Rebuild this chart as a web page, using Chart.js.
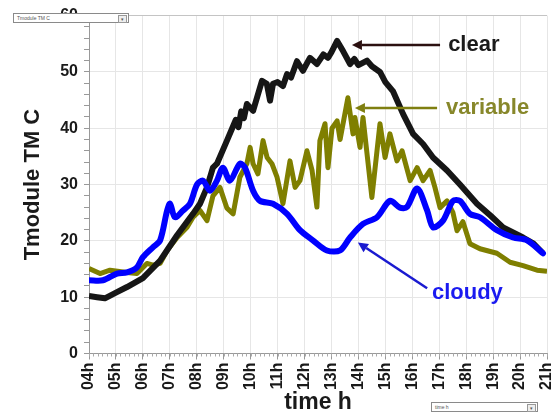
<!DOCTYPE html>
<html><head><meta charset="utf-8">
<script src="https://cdn.jsdelivr.net/npm/chart.js@4"></script>
<style>
html,body{margin:0;padding:0;background:#fff;}
#wrap{position:relative;width:558px;height:414px;overflow:hidden;}
canvas{position:absolute;left:0;top:0;}
.dd{position:absolute;border:1px solid #8a8a8a;background:#fff;font:5px "Liberation Sans",Arial,sans-serif;line-height:8px;color:#555;padding-left:3px;box-sizing:border-box;}
.dd .btn{position:absolute;right:1px;top:1px;width:7px;height:6px;border:1px solid #999;background:#eee;font-size:5px;line-height:6px;text-align:center;}
</style></head>
<body><div id="wrap"><canvas id="c" width="558" height="414"></canvas>
<div class="dd" style="left:13px;top:13px;width:116px;height:10px;">Tmodule TM C<div class="btn">&#9662;</div></div>
<div class="dd" style="left:431px;top:402px;width:107px;height:10px;">time h<div class="btn">&#9662;</div></div>
</div>
<script>
const seriesNames = ["clear", "variable", "cloudy"];

const clearHours = [4.00,4.30,4.59,5.00,5.41,6.00,6.64,7.27,7.86,8.12,8.38,8.60,8.75,9.12,9.45,9.55,9.65,9.75,9.86,10.09,10.42,10.60,10.72,10.83,11.00,11.20,11.35,11.50,11.72,11.94,12.20,12.46,12.70,12.87,13.00,13.21,13.43,13.69,13.85,14.00,14.32,14.50,14.80,15.00,15.28,15.66,16.03,16.40,16.77,17.29,17.77,18.40,18.90,19.37,20.11,20.50,20.85];
const clearTemps = [10.2,10.0,9.8,10.8,11.8,13.4,16.5,21.0,24.8,26.6,29.5,33.0,33.7,37.8,41.5,40.2,43.0,41.8,44.3,43.1,48.4,47.9,44.9,47.9,48.2,47.5,49.6,49.0,51.9,50.2,52.5,51.4,53.1,52.5,53.5,55.5,53.7,51.4,52.3,51.2,52.0,51.0,50.0,48.2,46.6,42.5,39.0,37.2,34.8,32.5,30.0,26.6,24.5,22.4,20.6,19.5,17.8];

const variableHours = [4.00,4.41,4.78,5.41,5.78,6.15,6.38,6.64,6.90,7.27,7.64,7.86,8.12,8.38,8.60,8.86,9.12,9.35,9.60,9.86,9.98,10.09,10.27,10.46,10.61,10.79,10.98,11.20,11.46,11.65,11.83,12.09,12.28,12.46,12.57,12.76,12.87,13.02,13.21,13.32,13.61,13.80,13.87,14.06,14.17,14.50,14.80,14.99,15.17,15.43,15.62,15.92,16.18,16.40,16.66,16.84,17.03,17.29,17.51,17.66,17.88,18.14,18.51,19.14,19.63,20.11,20.63,21.00];
const variableTemps = [15.1,14.2,14.8,14.4,14.2,16.0,15.7,16.0,18.3,20.6,22.4,24.2,25.4,23.6,28.0,29.5,25.8,24.8,31.3,33.7,36.6,33.7,31.9,37.8,34.8,33.7,31.3,26.6,34.2,29.5,30.7,36.0,32.5,26.0,37.8,40.8,33.0,40.0,41.3,38.0,45.4,39.0,41.9,36.6,41.9,27.7,40.8,34.8,39.0,34.2,36.0,30.7,33.0,30.7,32.5,29.5,25.9,27.1,25.0,21.8,23.4,19.5,18.6,17.8,16.2,15.6,14.8,14.6];

const cloudyHours = [4.00,4.52,5.04,5.41,5.78,6.00,6.38,6.64,6.90,7.01,7.19,7.49,7.75,8.01,8.23,8.49,8.75,8.97,9.23,9.60,9.79,10.09,10.35,10.83,11.35,11.83,12.31,12.83,13.32,13.69,14.17,14.69,15.17,15.54,15.80,16.18,16.55,16.77,17.14,17.51,17.77,18.14,18.51,19.14,19.74,20.26,20.85];
const cloudyTemps = [13.0,13.0,14.2,14.4,15.3,17.1,18.9,20.1,25.4,26.6,24.2,25.4,26.6,30.0,30.7,28.9,30.7,33.0,30.7,33.7,33.0,28.9,27.1,26.6,24.8,21.9,20.1,18.3,18.3,20.6,23.0,24.2,27.1,25.9,26.0,29.3,25.4,22.4,23.6,27.1,27.1,24.8,24.2,21.9,20.6,20.1,17.8];

const xMin = 4, xMax = 21, yMin = 0, yMax = 60;

function pts(hs, ts){ return hs.map((h,i)=>({x:h,y:ts[i]})); }

const FONT = '"Liberation Sans", Arial, sans-serif';

const annotations = [
  {text:"clear", color:"#1a1a1a", arrowColor:"#2b1010", tx:17.33, ty:54.8, from:[17.03,54.8], to:[13.76,54.8]},
  {text:"variable", color:"#87872a", arrowColor:"#7f7f10", tx:17.25, ty:43.6, from:[16.92,43.6], to:[13.87,43.6]},
  {text:"cloudy", color:"#1a1af0", arrowColor:"#1a1ad0", tx:16.73, ty:10.7, from:[16.55,11.6], to:[13.98,19.7]}
];

const extras = {
  id:'extras',
  afterDraw(chart){
    const ctx = chart.ctx, xs = chart.scales.x, ys = chart.scales.y;
    const ca = chart.chartArea;
    ctx.save();
    ctx.strokeStyle = '#aaa'; ctx.lineWidth = 1;
    for (let i = 0; i <= (xMax-xMin)*6; i++) {
      const px = Math.round(xs.getPixelForValue(xMin + i/6)) + 0.5;
      ctx.beginPath(); ctx.moveTo(px, ca.bottom); ctx.lineTo(px, ca.bottom + 3); ctx.stroke();
    }
    annotations.forEach(a=>{
      const x1 = xs.getPixelForValue(a.from[0]), y1 = ys.getPixelForValue(a.from[1]);
      const x2 = xs.getPixelForValue(a.to[0]), y2 = ys.getPixelForValue(a.to[1]);
      const ang = Math.atan2(y2-y1, x2-x1);
      const hl = 10, hw = 5;
      const bx = x2 - hl*Math.cos(ang), by = y2 - hl*Math.sin(ang);
      ctx.strokeStyle = a.arrowColor; ctx.fillStyle = a.arrowColor; ctx.lineWidth = 2.5;
      ctx.beginPath(); ctx.moveTo(x1,y1); ctx.lineTo(bx,by); ctx.stroke();
      ctx.beginPath(); ctx.moveTo(x2,y2);
      ctx.lineTo(bx + hw*Math.sin(ang), by - hw*Math.cos(ang));
      ctx.lineTo(bx - hw*Math.sin(ang), by + hw*Math.cos(ang));
      ctx.closePath(); ctx.fill();
      ctx.fillStyle = a.color; ctx.font = 'bold 22px ' + FONT;
      ctx.textAlign = 'left'; ctx.textBaseline = 'middle';
      ctx.fillText(a.text, xs.getPixelForValue(a.tx), ys.getPixelForValue(a.ty));
    });
    ctx.restore();
  }
};

new Chart(document.getElementById('c'), {
  type: 'line',
  data: {
    datasets: [
      {label: seriesNames[2], data: pts(cloudyHours, cloudyTemps), borderColor:'#0000ff', borderWidth:6, tension:0.3, pointRadius:0, borderJoinStyle:'round', borderCapStyle:'round', fill:false},
      {label: seriesNames[0], data: pts(clearHours, clearTemps), borderColor:'#161616', borderWidth:6, tension:0, pointRadius:0, borderJoinStyle:'round', fill:false},
      {label: seriesNames[1], data: pts(variableHours, variableTemps), borderColor:'#7f7f00', borderWidth:5, tension:0, pointRadius:0, borderJoinStyle:'round', fill:false}
    ]
  },
  options: {
    responsive:false, animation:false,
    layout:{padding:{top:14, right:11, left:0, bottom:-2}},
    plugins:{legend:{display:false}, tooltip:{enabled:false}},
    scales:{
      x:{type:'linear', min:xMin, max:xMax,
        afterFit(s){ s.height = 62.5; s.paddingRight = 11; s.paddingLeft = 0; },
        ticks:{stepSize:1, autoSkip:false, maxRotation:90, minRotation:90, padding:3,
          color:'#1a1a1a', font:{family:FONT, size:16, weight:'bold'},
          callback:v => (v<10?'0':'') + v + 'h'},
        grid:{color:'#e6e6e6', tickColor:'#999', tickLength:6},
        border:{color:'#999'},
        title:{display:true, text:'time h', color:'#1a1a1a', font:{family:FONT, size:23, weight:'bold'}, padding:{top:0, bottom:0}}
      },
      y:{min:yMin, max:yMax,
        afterFit(s){ s.width = 89; },
        ticks:{stepSize:2, autoSkip:false, padding:6, color:'#1a1a1a', font:{family:FONT, size:16, weight:'bold'},
          callback:v => v % 10 === 0 ? v : ''},
        grid:{color:c => (c.tick && c.tick.value % 10 === 0) ? (c.tick.value === 60 ? '#c4c4c4' : '#e6e6e6') : 'rgba(0,0,0,0)', tickColor:'#999', tickLength:5},
        border:{color:'#999'},
        title:{display:true, text:'Tmodule TM C', color:'#1a1a1a', font:{family:FONT, size:22, weight:'bold'}, padding:{top:20, bottom:0}}
      }
    }
  },
  plugins:[extras]
});
</script></body></html>
